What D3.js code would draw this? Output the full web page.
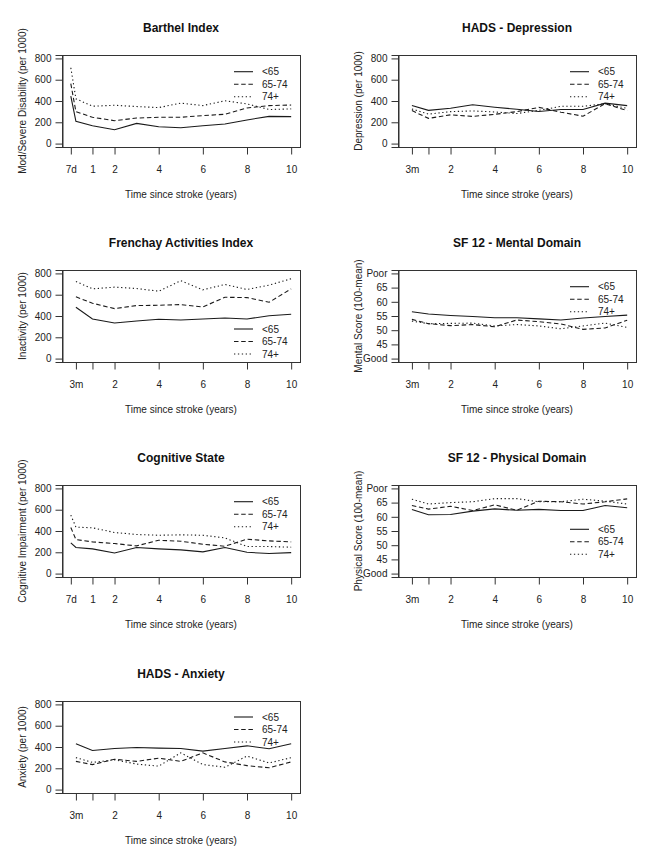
<!DOCTYPE html>
<html><head><meta charset="utf-8">
<script src="https://cdn.jsdelivr.net/npm/d3@7/dist/d3.min.js"></script>
<style>body{margin:0;background:#fff}svg{display:block}</style>
</head><body><svg id="c" width="655" height="861"></svg>
<script>
// ---------- data ----------
const groups = ["<65", "65-74", "74+"];
const timesWith7d = [7/365, 0.25, 1, 2, 3, 4, 5, 6, 7, 8, 9, 10];
const times3m = [0.25, 1, 2, 3, 4, 5, 6, 7, 8, 9, 10];
const ticks7d = [7/365, 1, 2, 4, 6, 8, 10];
const tickLabels7d = ["7d", "1", "2", "4", "6", "8", "10"];
const ticks3m = [0.25, 1, 2, 4, 6, 8, 10];
const tickLabels3m = ["3m", "", "2", "4", "6", "8", "10"];
const rateTicks = [0, 200, 400, 600, 800];
const rateTickLabels = ["0", "200", "400", "600", "800"];
const scoreTicks = [40, 45, 50, 55, 60, 65, 70];
const scoreTickLabels = ["Good", "45", "50", "55", "60", "65", "Poor"];

const barthelU65  = [446, 209, 168, 130, 190, 158, 149, 168, 184, 222, 256, 253];
const barthel6574 = [563, 300, 247, 215, 240, 247, 247, 263, 275, 335, 357, 362];
const barthel74p  = [712, 421, 351, 360, 348, 338, 380, 357, 402, 373, 320, 326];

const depU65  = [357, 312, 332, 365, 342, 322, 302, 320, 320, 380, 357];
const dep6574 = [310, 237, 270, 255, 275, 300, 340, 295, 257, 375, 310];
const dep74p  = [325, 277, 300, 307, 297, 282, 312, 350, 350, 375, 330];

const frenU65  = [482, 372, 334, 353, 369, 362, 372, 381, 372, 403, 416];
const fren6574 = [580, 520, 469, 498, 501, 507, 485, 576, 573, 529, 655];
const fren74p  = [724, 655, 671, 658, 633, 731, 646, 696, 649, 690, 750];

const mentU65  = [56.5, 55.7, 55.2, 54.8, 54.4, 54.4, 54.0, 53.6, 54.3, 54.8, 55.3];
const ment6574 = [53.8, 52.3, 51.6, 52.0, 51.2, 53.6, 53.0, 52.2, 50.3, 50.8, 53.5];
const ment74p  = [53.2, 52.3, 52.4, 52.5, 51.5, 52.0, 51.5, 50.5, 51.5, 52.5, 51.0];

const cogU65  = [288, 245, 232, 194, 245, 232, 223, 204, 245, 200, 188, 197];
const cog6574 = [433, 320, 298, 282, 260, 313, 304, 276, 257, 323, 307, 298];
const cog74p  = [549, 436, 430, 386, 367, 360, 364, 360, 335, 254, 254, 248];

const physU65  = [62.6, 60.7, 60.8, 62.0, 62.8, 62.3, 62.6, 62.2, 62.2, 64.0, 63.2];
const phys6574 = [64.0, 62.7, 63.7, 62.2, 64.2, 62.3, 65.5, 65.3, 64.5, 65.3, 66.3];
const phys74p  = [66.2, 64.5, 65.0, 65.3, 66.4, 66.4, 65.3, 65.3, 66.2, 65.5, 64.5];

const anxU65  = [430, 367, 386, 396, 389, 386, 361, 386, 411, 383, 430];
const anx6574 = [265, 235, 285, 265, 295, 265, 345, 260, 225, 205, 260];
const anx74p  = [300, 255, 280, 240, 220, 345, 235, 210, 315, 250, 300];

const titles = ["Barthel Index", "HADS - Depression", "Frenchay Activities Index",
  "SF 12 - Mental Domain", "Cognitive State", "SF 12 - Physical Domain", "HADS - Anxiety"];
const yLabels = ["Mod/Severe Disability (per 1000)", "Depression (per 1000)", "Inactivity (per 1000)",
  "Mental Score (100-mean)", "Cognitive Impairment (per 1000)", "Physical Score (100-mean)", "Anxiety (per 1000)"];
const xLabel = "Time since stroke (years)";

const panels = [
  {x: timesWith7d, xt: ticks7d, xl: tickLabels7d, yt: rateTicks, yl: rateTickLabels, s: [barthelU65, barthel6574, barthel74p]},
  {x: times3m, xt: ticks3m, xl: tickLabels3m, yt: rateTicks, yl: rateTickLabels, s: [depU65, dep6574, dep74p]},
  {x: times3m, xt: ticks3m, xl: tickLabels3m, yt: rateTicks, yl: rateTickLabels, s: [frenU65, fren6574, fren74p]},
  {x: times3m, xt: ticks3m, xl: tickLabels3m, yt: scoreTicks, yl: scoreTickLabels, s: [mentU65, ment6574, ment74p]},
  {x: timesWith7d, xt: ticks7d, xl: tickLabels7d, yt: rateTicks, yl: rateTickLabels, s: [cogU65, cog6574, cog74p]},
  {x: times3m, xt: ticks3m, xl: tickLabels3m, yt: scoreTicks, yl: scoreTickLabels, s: [physU65, phys6574, phys74p]},
  {x: times3m, xt: ticks3m, xl: tickLabels3m, yt: rateTicks, yl: rateTickLabels, s: [anxU65, anx6574, anx74p]}
];

// ---------- layout / style ----------
const boxLeft = [62, 398], boxW = 238, boxTop0 = 55, rowH = 215.2, boxH = 92;
const legendOffset = [16.7, 16.7, 59, 16.7, 16.7, 44.3, 16];
const dashes = [null, "4.5,2.7", "1.3,2.6"];
const font = "'Liberation Sans', Arial, Helvetica, sans-serif";
const ink = "#1a1a1a";

const svg = d3.select("#c").style("font-family", font);
svg.append("rect").attr("width", 655).attr("height", 861).attr("fill", "#fff");

panels.forEach((p, i) => {
  const col = i % 2, row = Math.floor(i / 2);
  const L = boxLeft[col], R = L + boxW;
  const T = Math.round(boxTop0 + row * rowH), B = T + boxH;
  const ymin = p.yt[0], ymax = p.yt[p.yt.length - 1], ext = (ymax - ymin) * 0.04;
  const xs = d3.scaleLinear().domain([7/365 - 0.3992, 10.4]).range([L, R]);
  const ys = d3.scaleLinear().domain([ymin - ext, ymax + ext]).range([B, T]);
  const g = svg.append("g");

  // box
  g.append("rect").attr("x", L + 0.5).attr("y", T + 0.5).attr("width", boxW).attr("height", boxH)
    .attr("fill", "none").attr("stroke", "#333").attr("stroke-width", 1);

  // y axis
  const yAxis = d3.axisLeft(ys).tickValues(p.yt).tickSize(7).tickPadding(4)
    .tickFormat((d, j) => p.yl[j]);
  const ya = g.append("g").attr("transform", `translate(${L + 0.5},0)`).call(yAxis);
  ya.select(".domain").attr("stroke", "#333");
  ya.selectAll(".tick line").attr("stroke", "#333");
  ya.selectAll("text").attr("font-size", 10).attr("fill", "#222").attr("font-family", font);

  // x axis
  const xAxis = d3.axisBottom(xs).tickValues(p.xt).tickSize(7).tickPadding(11)
    .tickFormat((d, j) => p.xl[j]);
  const xa = g.append("g").attr("transform", `translate(0,${B + 0.5})`).call(xAxis);
  xa.select(".domain").remove();
  xa.selectAll(".tick line").attr("stroke", "#333");
  xa.selectAll("text").attr("font-size", 10).attr("fill", "#222").attr("font-family", font);

  // title
  g.append("text").attr("x", (L + R) / 2).attr("y", T - 23).attr("text-anchor", "middle")
    .attr("font-size", 12).attr("font-weight", "bold").attr("fill", "#111").text(titles[i]);
  // x label
  g.append("text").attr("x", (L + R) / 2).attr("y", B + 51).attr("text-anchor", "middle")
    .attr("font-size", 10).attr("fill", "#222").text(xLabel);
  // y label
  g.append("text").attr("transform", `translate(${L - 36},${(T + B) / 2}) rotate(-90)`)
    .attr("text-anchor", "middle").attr("font-size", 10).attr("fill", "#222").text(yLabels[i]);

  // series lines
  const line = d3.line().x((d, j) => xs(p.x[j])).y(d => ys(d));
  p.s.forEach((vals, k) => {
    g.append("path").attr("d", line(vals)).attr("fill", "none").attr("stroke", ink)
      .attr("stroke-width", 1.1).attr("stroke-dasharray", dashes[k]);
  });

  // legend
  groups.forEach((name, k) => {
    const yy = T + legendOffset[i] + k * 12.5;
    g.append("line").attr("x1", R - 66).attr("x2", R - 47).attr("y1", yy).attr("y2", yy)
      .attr("stroke", ink).attr("stroke-width", 1.1).attr("stroke-dasharray", dashes[k]);
    g.append("text").attr("x", R - 38).attr("y", yy + 3.6).attr("font-size", 10)
      .attr("fill", "#222").text(name);
  });
});
</script></body></html>
